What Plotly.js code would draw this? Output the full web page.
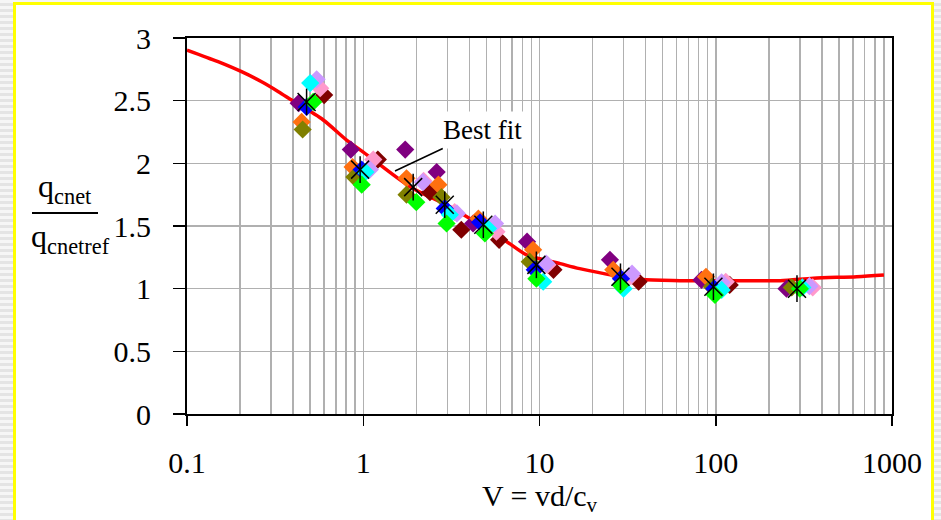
<!DOCTYPE html>
<html>
<head>
<meta charset="utf-8">
<script src="https://cdn.plot.ly/plotly-3.0.1.min.js"></script>
<style>
  html, body { margin:0; padding:0; }
  body { width:941px; height:520px; overflow:hidden; position:relative;
         background: repeating-linear-gradient(to bottom, #f6f6f6 0px, #f6f6f6 3px, #e4e4e4 3px, #e4e4e4 6px); }
  #frame { position:absolute; left:13px; top:2px; width:915px; height:540px;
           border:3px solid #ffff00; background:#ffffff; }
  #chart { position:absolute; left:0; top:0; width:941px; height:520px; }
</style>
</head>
<body>
<div id="frame"></div>
<div id="chart"></div>
<script>
// Best-fit curve
const fitV = [0.1, 0.15, 0.204, 0.265, 0.33, 0.392, 0.593, 0.804, 1.0, 1.84, 3.1, 6.52, 8.46, 13.1, 16.9, 37.2, 62.7, 126, 232, 358, 631, 900];
const fitQ = [2.904, 2.811, 2.731, 2.651, 2.572, 2.505, 2.346, 2.186, 2.09, 1.814, 1.654, 1.375, 1.27, 1.20, 1.16, 1.075, 1.064, 1.064, 1.064, 1.083, 1.096, 1.11];

// Test series
const darkredV = [0.6, 1.21, 2.39, 3.6, 5.9, 12, 36.5, 120];
const darkredQ = [2.545, 2.03, 1.77, 1.47, 1.39, 1.15, 1.055, 1.03];
const pinkV = [0.57, 1.14, 2.2, 3.3, 5.7, 11.1, 33, 114, 355];
const pinkQ = [2.60, 2.03, 1.86, 1.61, 1.455, 1.19, 1.10, 1.055, 1.01];
const lavenderV = [0.544, 1.09, 2.18, 3.4, 5.6, 10.9, 33.5, 108, 340];
const lavenderQ = [2.67, 1.95, 1.85, 1.60, 1.52, 1.20, 1.12, 1.05, 1.02];
const purpleV = [0.43, 0.85, 1.73, 2.61, 4.2, 8.5, 25.1, 83, 252];
const purpleQ = [2.48, 2.11, 2.11, 1.93, 1.52, 1.375, 1.23, 1.07, 1.0];
const orangeV = [0.447, 0.87, 1.76, 2.67, 4.5, 9.2, 26.2, 88];
const orangeQ = [2.33, 1.97, 1.88, 1.83, 1.56, 1.31, 1.15, 1.095];
const oliveV = [0.453, 0.89, 1.76, 2.78, 8.8, 95, 270];
const oliveQ = [2.27, 1.89, 1.75, 1.73, 1.215, 1.015, 1.01];
const blueV = [0.477, 0.98, 2.9, 4.6, 9.4, 29, 98];
const blueQ = [2.45, 1.95, 1.64, 1.53, 1.15, 1.08, 1.0];
const cyanV = [0.5, 1.03, 3.1, 5.1, 10.5, 30, 108, 310];
const cyanQ = [2.64, 1.93, 1.59, 1.48, 1.055, 1.0, 0.99, 1.01];
const greenV = [0.52, 0.98, 2.0, 2.97, 4.9, 9.6, 28.8, 99, 300];
const greenQ = [2.49, 1.83, 1.69, 1.52, 1.44, 1.08, 1.03, 0.95, 1.0];
const starV = [0.477, 0.96, 1.92, 2.9, 4.8, 9.6, 28.8, 97, 289];
const starQ = [2.49, 1.95, 1.81, 1.67, 1.51, 1.19, 1.095, 1.015, 1.0];

const xTickVals = [0.1, 1, 10, 100, 1000];
const xTickText = ['0.1', '1', '10', '100', '1000'];

const serif = 'Liberation Serif, Times New Roman, serif';
const diamond = (v, q, color) => ({
  x: v, y: q, type: 'scatter', mode: 'markers',
  marker: { symbol: 'diamond', size: 14, color: color, line: { width: 0 } },
  hoverinfo: 'x+y'
});

const traces = [
  { x: fitV, y: fitQ, type: 'scatter', mode: 'lines',
    line: { color: '#ff0000', width: 3.5, shape: 'spline', smoothing: 0.8 } },
  diamond(darkredV, darkredQ, '#800000'),
  diamond(pinkV, pinkQ, '#ff99cc'),
  diamond(lavenderV, lavenderQ, '#cc99ff'),
  diamond(purpleV, purpleQ, '#800080'),
  diamond(orangeV, orangeQ, '#ff7010'),
  diamond(oliveV, oliveQ, '#808000'),
  diamond(blueV, blueQ, '#0000ff'),
  diamond(cyanV, cyanQ, '#00ffff'),
  diamond(greenV, greenQ, '#00ff00'),
  { x: starV, y: starQ, type: 'scatter', mode: 'markers',
    marker: { symbol: 'x-thin-open', size: 18, color: '#000000', line: { width: 1.5, color: '#000000' } } },
  { x: starV, y: starQ, type: 'scatter', mode: 'markers',
    marker: { symbol: 'line-ns-open', size: 19, color: '#000000', line: { width: 1.5, color: '#000000' } } }
];

// plot area in pixels: left 187, right 892, top 38, bottom 414
const L = 187, R = 892, T = 38, B = 414;
const px = x => (x - L) / (R - L);
const py = y => (B - y) / (B - T);

const layout = {
  width: 941, height: 520,
  margin: { l: L, r: 941 - R, t: T, b: 520 - B, pad: 0 },
  paper_bgcolor: 'rgba(0,0,0,0)',
  plot_bgcolor: '#ffffff',
  showlegend: false,
  font: { family: serif, color: '#000000', size: 30 },
  xaxis: {
    type: 'log', range: [-1, 3],
    tickmode: 'array', tickvals: xTickVals, ticktext: xTickText,
    ticks: 'outside', ticklen: 10, tickwidth: 1.5, tickcolor: '#000000',
    ticklabelstandoff: 11,
    showgrid: true, gridcolor: '#b0b0b0', gridwidth: 1.5,
    minor: { dtick: 'D1', showgrid: true, gridcolor: '#b0b0b0', gridwidth: 1.5, ticks: '' },
    showline: true, linecolor: '#000000', linewidth: 2, mirror: true,
    zeroline: false,
    tickfont: { family: serif, size: 30, color: '#000000' },
    title: { text: 'V = vd/c<sub>v</sub>', font: { family: serif, size: 30, color: '#000000' }, standoff: 6 }
  },
  yaxis: {
    range: [0, 3], dtick: 0.5, tick0: 0,
    ticks: 'outside', ticklen: 12, tickwidth: 1.5, tickcolor: '#000000',
    ticklabelstandoff: 16,
    showgrid: true, gridcolor: '#b0b0b0', gridwidth: 1.5,
    showline: true, linecolor: '#000000', linewidth: 2, mirror: true,
    zeroline: false,
    tickfont: { family: serif, size: 30, color: '#000000' }
  },
  shapes: [
    { type: 'line', xref: 'paper', yref: 'paper', x0: px(32), x1: px(98), y0: py(213), y1: py(213),
      line: { color: '#000000', width: 2 } }
  ],
  annotations: [
    { xref: 'paper', yref: 'paper', x: px(65), y: py(211), xanchor: 'center', yanchor: 'bottom',
      text: 'q<sub>cnet</sub>', showarrow: false, font: { family: serif, size: 32, color: '#000000' } },
    { xref: 'paper', yref: 'paper', x: px(70), y: py(216), xanchor: 'center', yanchor: 'top',
      text: 'q<sub>cnetref</sub>', showarrow: false, font: { family: serif, size: 32, color: '#000000' } },
    { xref: 'x', yref: 'y', x: Math.log10(1.514), y: 1.939, ax: 87, ay: -41,
      text: 'Best fit', showarrow: true, arrowhead: 0, arrowwidth: 1.5, arrowcolor: '#000000',
      bgcolor: '#ffffff', borderpad: 3, font: { family: serif, size: 27, color: '#000000' } }
  ]
};

Plotly.newPlot('chart', traces, layout, { displayModeBar: false, staticPlot: true });
</script>
</body>
</html>
